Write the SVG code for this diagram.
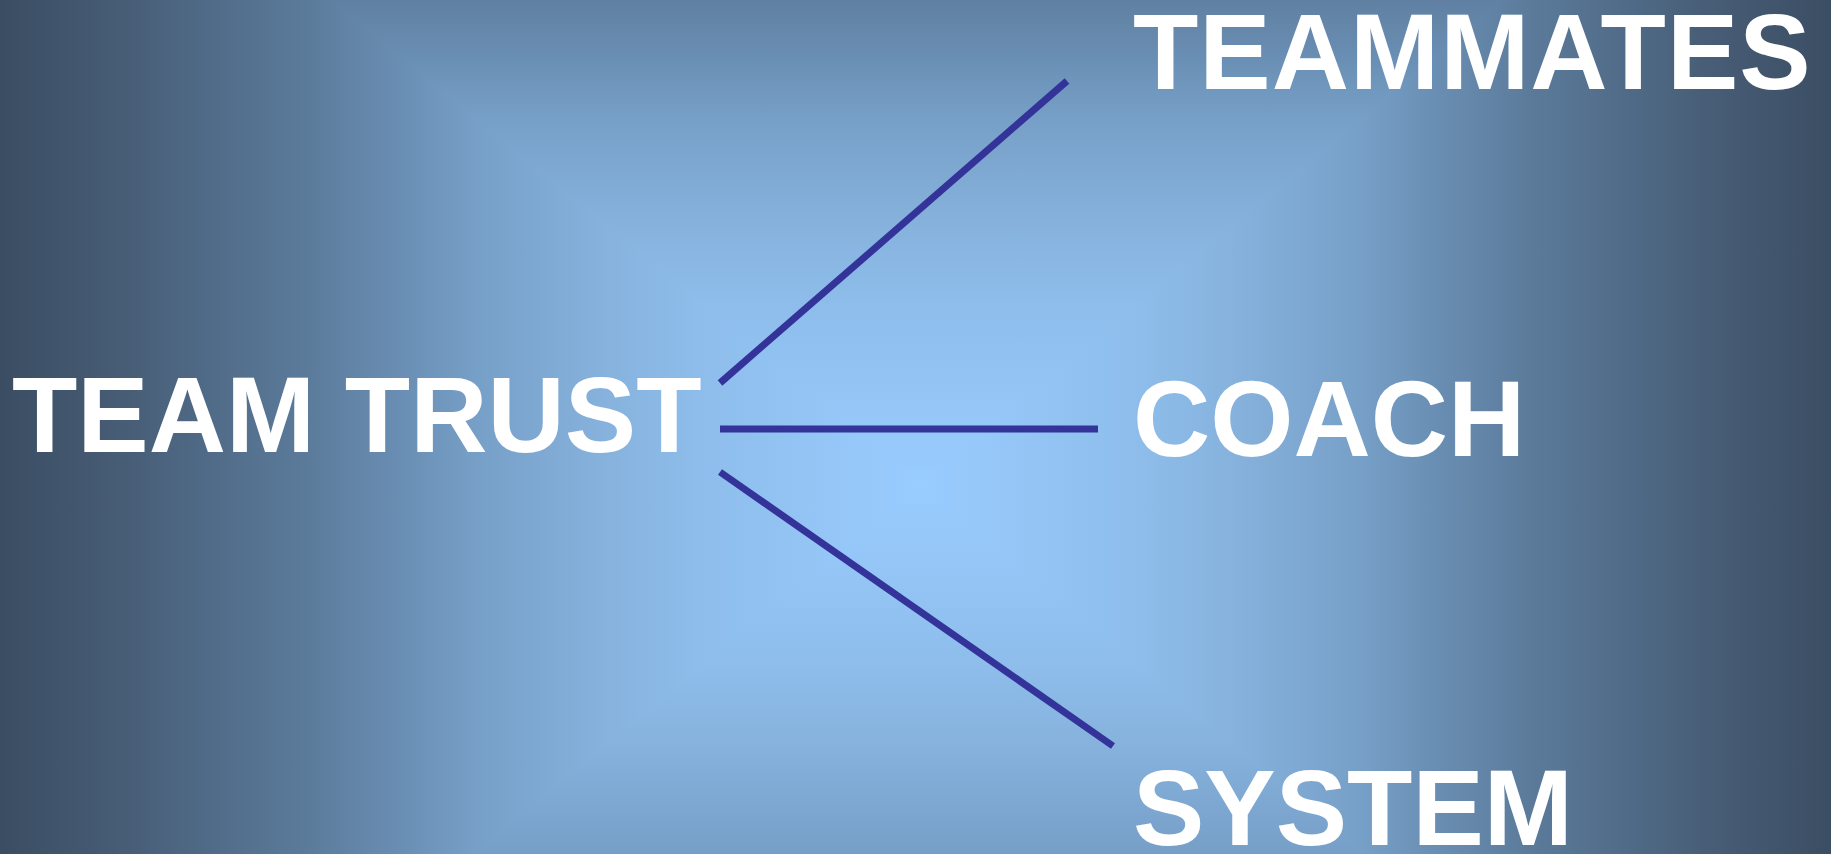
<svg xmlns="http://www.w3.org/2000/svg" width="1831" height="854" viewBox="0 0 1831 854">
  <defs>
    <linearGradient id="gL" gradientUnits="userSpaceOnUse" x1="920" y1="0" x2="0" y2="0">
      <stop offset="0" stop-color="#99ccff"/>
      <stop offset="0.24" stop-color="#8ebdeb"/>
      <stop offset="0.34" stop-color="#86b2dd"/>
      <stop offset="0.48" stop-color="#77a0c8"/>
      <stop offset="0.56" stop-color="#6a8fb4"/>
      <stop offset="0.67" stop-color="#5b7a9a"/>
      <stop offset="0.78" stop-color="#4f6a86"/>
      <stop offset="0.87" stop-color="#475c75"/>
      <stop offset="1" stop-color="#3a4d63"/>
    </linearGradient>
    <linearGradient id="gR" href="#gL" x1="920" y1="0" x2="1835" y2="0"/>
    <linearGradient id="gT" href="#gL" x1="0" y1="485" x2="0" y2="-275"/>
    <linearGradient id="gB" href="#gL" x1="0" y1="485" x2="0" y2="1245"/>
    <style>
      .lbl { font-family: "Liberation Sans", Arial, sans-serif; font-weight: bold; font-size: 107px; fill: #ffffff; }
      .conn { stroke: #333399; stroke-width: 7; stroke-linecap: butt; fill: none; }
    </style>
  </defs>
  <g id="background">
    <rect x="0" y="0" width="921" height="854" fill="url(#gL)"/>
    <rect x="919" y="0" width="912" height="854" fill="url(#gR)"/>
    <polygon points="920,485 0,-275 1840,-275" fill="url(#gT)"/>
    <polygon points="920,485 0,1245 1840,1245" fill="url(#gB)"/>
  </g>
  <g id="connectors">
    <line class="conn" x1="720" y1="383" x2="1067" y2="81"/>
    <line class="conn" x1="720" y1="429" x2="1098" y2="429"/>
    <line class="conn" x1="720" y1="472" x2="1113" y2="746"/>
  </g>
  <g id="team-trust"><text class="lbl" x="12" y="452">TEAM TRUST</text></g>
  <g id="teammates"><text class="lbl" x="1133" y="89" letter-spacing="1">TEAMMATES</text></g>
  <g id="coach"><text class="lbl" x="1133" y="456">COACH</text></g>
  <g id="system"><text class="lbl" x="1133" y="845">SYSTEM</text></g>
</svg>
